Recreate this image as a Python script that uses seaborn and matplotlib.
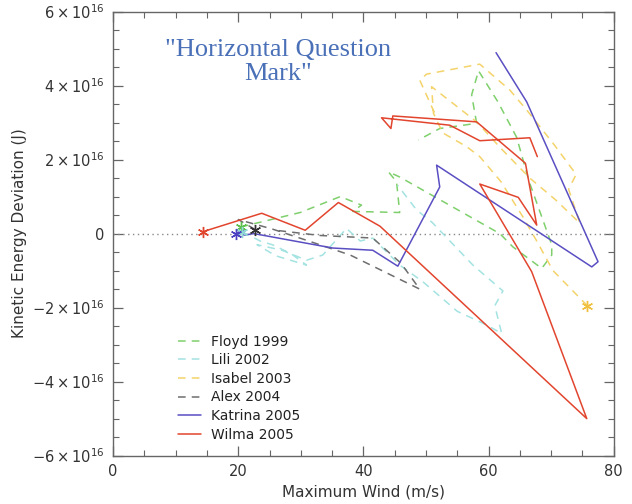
import numpy as np
import pandas as pd
import matplotlib
matplotlib.use('Agg')
import matplotlib.pyplot as plt
from matplotlib.ticker import MultipleLocator, FuncFormatter
import seaborn as sns

# ---- data (wind in m/s, kinetic energy deviation in units of 1e16 J) ----
floyd_wind = [20.4, 29.9, 36.3, 39.7, 38.3, 45.8, 45.3, 44.0, 45.8, 61.8, 63.9, 68.5,
              70.1, 70.1, 66.5, 64.5, 61.5, 58.4, 57.3, 58.1, 52.2, 48.8]
floyd_ked = [0.18, 0.57, 1.0, 0.77, 0.6, 0.57, 1.4, 1.67, 1.53, 0.0, -0.36, -0.94,
             -0.58, -0.3, 1.4, 2.6, 3.56, 4.4, 3.75, 2.98, 2.84, 2.53]

lili_wind = [20.6, 23.5, 25.6, 28.5, 30.9, 26.0, 23.0, 27.0, 30.9, 33.5, 37.3, 39.5,
             41.5, 45.8, 49.5, 55.0, 59.7, 62.1, 61.0, 62.3, 57.5, 51.0, 48.5, 45.5]
lili_ked = [0.05, -0.2, -0.31, -0.55, -0.85, -0.6, -0.3, -0.45, -0.72, -0.58, 0.14, -0.2,
            -0.12, -0.85, -1.3, -2.1, -2.47, -2.7, -1.95, -1.55, -0.85, 0.3, 0.64, 1.3]

isabel_wind = [75.8, 70.3, 67.7, 65.5, 62.0, 58.6, 56.5, 52.7, 51.2, 50.9, 58.1, 62.0,
               66.6, 70.8, 74.6, 72.8, 74.0, 70.5, 66.1, 63.4, 58.6, 50.1, 49.0, 51.4]
isabel_ked = [-1.95, -1.0, -0.2, 0.45, 1.4, 2.08, 2.35, 2.72, 3.25, 3.97, 3.02, 2.3,
              1.5, 0.9, 0.28, 1.2, 1.6, 2.4, 3.34, 3.88, 4.58, 4.31, 4.15, 3.25]

alex_wind = [22.7, 20.0, 25.5, 30.9, 37.9, 49.0, 46.0, 41.5, 33.0, 26.5]
alex_ked = [0.11, 0.38, 0.12, -0.18, -0.58, -1.5, -0.8, -0.12, -0.05, 0.08]

katrina_wind = [19.65, 20.8, 20.9, 22.5, 35.1, 41.5, 45.5, 52.2, 51.7, 76.5, 77.5, 66.1, 61.2]
katrina_ked = [0.0, 0.11, -0.04, 0.0, -0.39, -0.45, -0.88, 1.26, 1.85, -0.9, -0.76, 3.56, 4.89]

wilma_wind = [14.3, 23.75, 30.7, 36.0, 42.65, 75.7, 66.9, 58.6, 64.75, 67.7, 65.9,
              58.1, 44.7, 44.4, 42.9, 53.8, 58.6, 66.6, 67.8]
wilma_ked = [0.05, 0.55, 0.09, 0.84, 0.2, -5.0, -1.03, 1.34, 0.98, 0.23, 1.9,
             3.02, 3.18, 2.84, 3.13, 2.93, 2.51, 2.59, 2.08]

storms = ['Floyd 1999', 'Lili 2002', 'Isabel 2003', 'Alex 2004', 'Katrina 2005', 'Wilma 2005']
winds = [floyd_wind, lili_wind, isabel_wind, alex_wind, katrina_wind, wilma_wind]
keds = [floyd_ked, lili_ked, isabel_ked, alex_ked, katrina_ked, wilma_ked]

colors = ['#7fd06c', '#a3e3e1', '#f4d36a', '#6e6e6e', '#5a4fc2', '#e2452e']
marker_colors = ['#5cbf4c', '#8fd8d6', '#f0c040', '#333333', '#4a3fc0', '#e2452e']
dash_style = {'Floyd 1999': (5, 4), 'Lili 2002': (5, 4), 'Isabel 2003': (5, 4),
              'Alex 2004': (5, 4), 'Katrina 2005': '', 'Wilma 2005': ''}

frames = []
for s, w, k in zip(storms, winds, keds):
    frames.append(pd.DataFrame({'storm': s, 'wind': w, 'ked': k, 'step': range(len(w))}))
df = pd.concat(frames, ignore_index=True)

sns.set_theme(style='ticks')
plt.rcParams['font.family'] = ['DejaVu Sans']

fig = plt.figure(figsize=(6.32, 5.04), dpi=100)
ax = fig.add_axes([0.179, 0.096, 0.792, 0.881])

ax.axhline(0, color='#888888', lw=1.0, ls=(0, (1, 2.5)), zorder=1)

sns.lineplot(data=df, x='wind', y='ked', hue='storm', style='storm',
             hue_order=storms, style_order=storms, palette=dict(zip(storms, colors)),
             dashes=dash_style, sort=False, estimator=None, units='storm',
             lw=1.1, ax=ax, legend='full')

# asterisks on the first point of each track
for s, w, k, c in zip(storms, winds, keds, marker_colors):
    ax.plot(w[0], k[0], marker=(6, 2, 0), ms=8, mew=1.0, color=c, ls='none', zorder=5)

ax.set_xlim(0, 80)
ax.set_ylim(-6, 6)
ax.xaxis.set_major_locator(MultipleLocator(20))
ax.xaxis.set_minor_locator(MultipleLocator(5))
ax.yaxis.set_major_locator(MultipleLocator(2))
ax.yaxis.set_minor_locator(MultipleLocator(0.5))


def ylab(v, pos):
    v = int(round(v))
    if v == 0:
        return '0'
    sign = '-' if v < 0 else ''
    return r'$%s%d\times10^{16}$' % (sign, abs(v))


ax.yaxis.set_major_formatter(FuncFormatter(ylab))
ax.tick_params(which='both', direction='in', top=True, right=True, color='#666666',
               labelsize=10.5, labelcolor='#333333', pad=6)
ax.tick_params(which='major', length=7, width=0.9)
ax.tick_params(which='minor', length=4.5, width=0.8)
for sp in ax.spines.values():
    sp.set_color('#666666')
    sp.set_linewidth(1.0)

ax.set_xlabel('Maximum Wind (m/s)', fontsize=11, color='#333333', labelpad=4)
ax.set_ylabel('Kinetic Energy Deviation (J)', fontsize=11, color='#333333', labelpad=4)

ax.text(0.33, 0.886, '"Horizontal Question\nMark"', transform=ax.transAxes,
        ha='center', va='center', fontsize=19, color='#4a70b8',
        family='Liberation Serif', linespacing=1.15)

handles, labels = ax.get_legend_handles_labels()
leg = ax.legend(handles, labels, loc='upper left', bbox_to_anchor=(0.118, 0.285),
                frameon=False, fontsize=10, handlelength=1.7, handletextpad=0.7,
                labelspacing=0.33, borderaxespad=0)
for t in leg.get_texts():
    t.set_color('#222222')

fig.savefig('out.png', dpi=100)
